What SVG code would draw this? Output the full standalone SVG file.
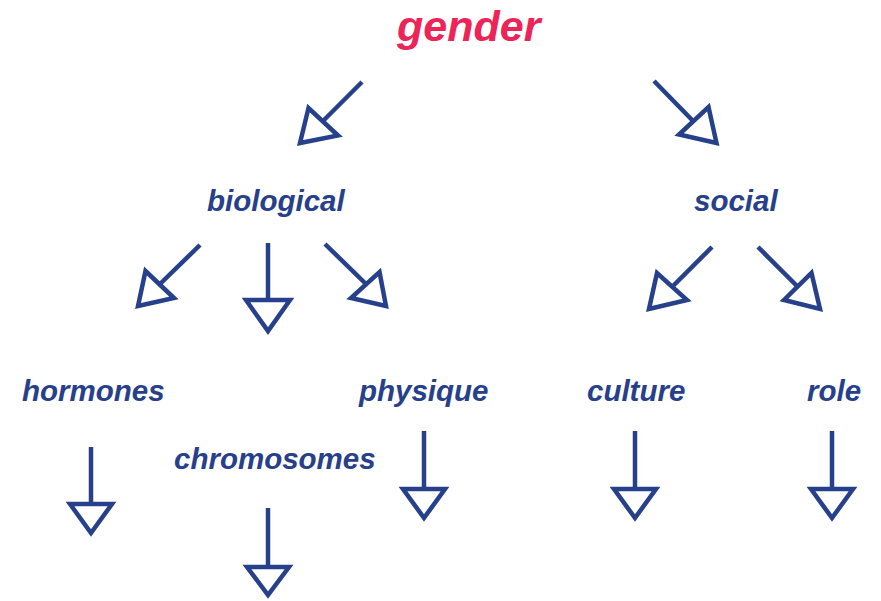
<svg xmlns="http://www.w3.org/2000/svg" width="881" height="601" viewBox="0 0 881 601">
<style>
  text { font-family: "Liberation Sans", Arial, sans-serif; font-weight: bold; font-style: italic; }
  .lbl { fill: #27408b; font-size: 29.5px; }
  .title { fill: #ec2457; font-size: 43px; }
  .conn line { stroke: #27408b; stroke-width: 4.5; }
  .conn polygon { stroke: #27408b; stroke-width: 4.5; fill: #ffffff; stroke-linejoin: miter; }
</style>
<rect width="881" height="601" fill="#ffffff"/>
<g id="gender"><text class="title" x="397" y="41">gender</text></g>
<g id="biological"><text class="lbl" x="207" y="211">biological</text></g>
<g id="social"><text class="lbl" x="694" y="211">social</text></g>
<g id="hormones"><text class="lbl" x="22" y="401">hormones</text></g>
<g id="chromosomes"><text class="lbl" x="174" y="469">chromosomes</text></g>
<g id="physique"><text class="lbl" x="359" y="401">physique</text></g>
<g id="culture"><text class="lbl" x="587" y="401">culture</text></g>
<g id="role"><text class="lbl" x="807" y="401">role</text></g>
<g id="connectors" class="conn">
  <line x1="362" y1="82" x2="322" y2="122"/>
  <polygon points="308.5,108 300,143 338,135.5"/>
  <line x1="654" y1="81" x2="696" y2="124"/>
  <polygon points="708.5,107 716.5,143 679,134.5"/>
  <line x1="200" y1="245" x2="160" y2="284"/>
  <polygon points="145.5,271 138,306 174,298"/>
  <line x1="268" y1="243" x2="268" y2="300"/>
  <polygon points="246,300 290,300 268,331"/>
  <line x1="325" y1="244" x2="366" y2="284"/>
  <polygon points="379.5,272 386,306 351,298"/>
  <line x1="712" y1="247" x2="673" y2="286"/>
  <polygon points="657,273 649,309 687,300"/>
  <line x1="758" y1="247" x2="798" y2="287"/>
  <polygon points="811.5,273 820,309 784,300"/>
  <line x1="91" y1="447" x2="91" y2="504"/>
  <polygon points="70,504 112,504 91,533"/>
  <line x1="268" y1="508" x2="268" y2="567"/>
  <polygon points="247,567 289,567 268,595"/>
  <line x1="424" y1="431" x2="424" y2="489"/>
  <polygon points="403,489 445,489 424,518"/>
  <line x1="635" y1="431" x2="635" y2="489"/>
  <polygon points="614,489 656,489 635,518"/>
  <line x1="832" y1="431" x2="832" y2="489"/>
  <polygon points="811,489 853,489 832,518"/>
</g>
</svg>
